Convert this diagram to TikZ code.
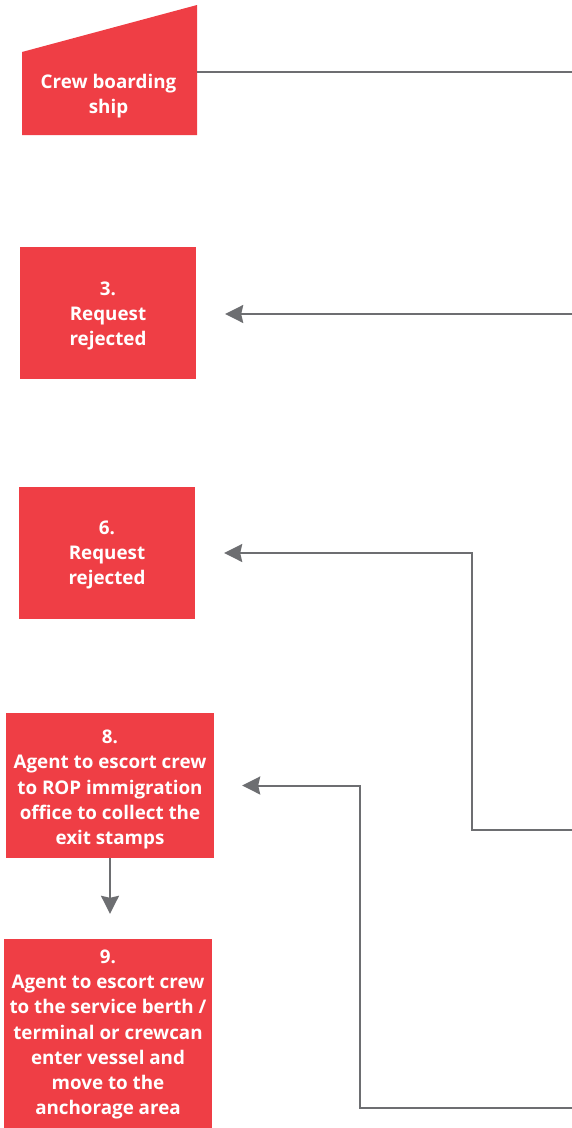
\documentclass[tikz,border=0pt]{standalone}
\usepackage{fontspec}
\setmainfont{Open Sans}
\usetikzlibrary{arrows.meta,calc}
\definecolor{boxred}{HTML}{EF3E45}
\definecolor{linegray}{HTML}{6D6E71}
\tikzset{
  redbox/.style={fill=boxred, inner sep=0pt},
  boxtext/.style={text=white, font=\bfseries\fontsize{18.8}{25.2}\selectfont, align=center, inner sep=0pt, yshift=-3pt},
  conn/.style={draw=linegray, line width=2pt},
  arr/.style={conn, -{Stealth[length=18pt,width=18pt,inset=2pt]}},
}
\begin{document}
\begin{tikzpicture}[x=1pt,y=-1pt]
\useasboundingbox (0,0) rectangle (572,1128);
% manual input shape
\coordinate (bsw) at (22,135);
\coordinate (bse) at (197,135);
\coordinate (bne) at (197,5);
\coordinate (bnw) at (22,52);
\fill[boxred] (bsw) -- (bse) -- (bne) -- (bnw) -- cycle;
\node[boxtext] (board) at (108.5,93) {Crew boarding\\ship};
\coordinate (e1) at (572,72);
\draw[conn] (197,72) -- (e1);
% boxes
\node[redbox, minimum width=176pt, minimum height=132pt] (box3) at (108,313) {};
\node[boxtext] (t3) at (box3.center) {3.\\Request\\rejected};
\node[redbox, minimum width=176pt, minimum height=132pt] (box6) at (107,553) {};
\node[boxtext, yshift=1pt] (t6) at (box6.center) {6.\\Request\\rejected};
\node[redbox, minimum width=208pt, minimum height=145pt] (box8) at (110,785.5) {};
\node[boxtext, yshift=-1pt] (t8) at (box8.center) {8.\\Agent to escort crew\\to ROP immigration\\office to collect the\\exit stamps};
\node[redbox, minimum width=208pt, minimum height=189pt] (box9) at (108,1033.5) {};
\node[boxtext, yshift=2pt] (t9) at (box9.center) {9.\\Agent to escort crew\\to the service berth /\\terminal or crewcan\\enter vessel and\\move to the\\anchorage area};
% connectors
\coordinate (e3) at (572,314);
\draw[arr, shorten >=29pt] (e3) -- (box3.east |- e3);
\coordinate (e6) at (572,830);
\draw[arr, shorten >=29pt] (e6) -- (472,830) |- (box6.east);
\coordinate (e8) at (572,1108);
\draw[arr, shorten >=28pt] (e8) -- (360,1108) |- (box8.east);
\draw[arr, shorten >=25pt] (box8.south) -- (box8.south |- box9.north);
\end{tikzpicture}
\end{document}
